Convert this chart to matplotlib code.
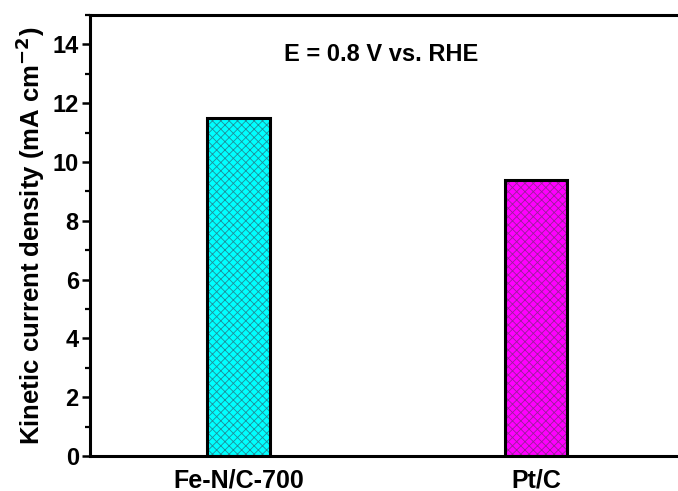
import matplotlib
matplotlib.use("Agg")
import matplotlib.pyplot as plt
from matplotlib.ticker import MultipleLocator

plt.rcParams['font.family'] = ['Liberation Sans', 'DejaVu Sans']
plt.rcParams['font.weight'] = 'bold'
plt.rcParams['mathtext.default'] = 'bf'
plt.rcParams['hatch.linewidth'] = 0.6

samples = ["Fe-N/C-700", "Pt/C"]
jk = [11.5, 9.4]
fills = ["#00FFFF", "#FF00FF"]
hatch_cols = ["#1f8f9a", "#9a1f9a"]

fig = plt.figure(figsize=(6.78, 4.91), dpi=100)
ax = fig.add_axes([0.1327, 0.0713, 0.8776, 0.8982])

pos = [1, 2]
for p, v, fc, hc in zip(pos, jk, fills, hatch_cols):
    ax.bar(p, v, width=0.21, color=fc, edgecolor=hc, hatch="xxxx", linewidth=0)
    ax.bar(p, v, width=0.21, color="none", edgecolor="black", linewidth=2.2)

ax.set_xlim(0.5, 2.5)
ax.set_ylim(0, 15)
ax.set_xticks(pos)
ax.set_xticklabels(samples, fontsize=18, fontweight='bold')
ax.tick_params(axis='x', length=0, pad=9)
ax.yaxis.set_major_locator(MultipleLocator(2))
ax.yaxis.set_minor_locator(MultipleLocator(1))
ax.tick_params(axis='y', which='major', direction='out', length=6, width=1.8,
               labelsize=17, pad=2)
ax.tick_params(axis='y', which='minor', direction='out', length=3.5, width=1.6)
for lab in ax.get_yticklabels():
    lab.set_fontweight('bold')

for s in ax.spines.values():
    s.set_linewidth(2.2)

ax.set_ylabel("Kinetic current density (mA cm$^{-2}$)", fontsize=18.5,
              fontweight='bold', labelpad=4)
ax.text(1.48, 13.65, "E = 0.8 V vs. RHE", fontsize=17, fontweight='bold',
        ha='center', va='center')

fig.savefig("out.png", dpi=100)
